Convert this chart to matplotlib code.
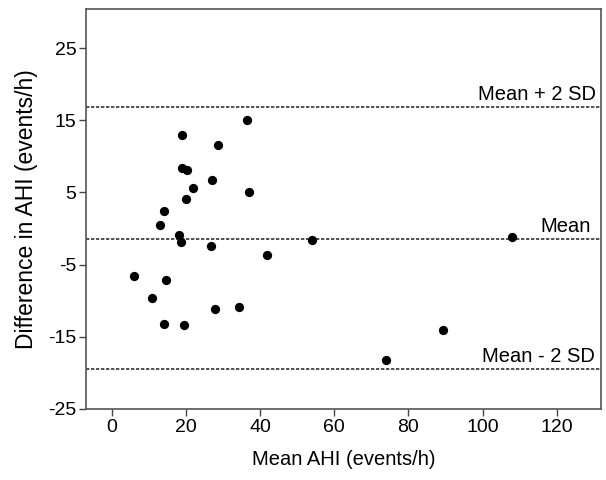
import matplotlib
matplotlib.use("Agg")
import matplotlib.pyplot as plt

plt.rcParams['font.family'] = ['Liberation Sans', 'DejaVu Sans']

# Mittelwert AHI und Differenz (Bland-Altman)
mean_ahi = [5.9, 10.8, 14.0, 14.6, 19.4, 18.6, 26.7, 27.8, 34.3, 41.8,
            12.9, 14.1, 18.9, 18.8, 20.3, 20.0, 21.9, 26.9, 28.5, 36.5,
            37.0, 18.1, 53.9, 107.9, 73.9, 89.2]
diff_ahi = [-6.6, -9.6, -13.2, -7.1, -13.4, -1.9, -2.4, -11.1, -10.9, -3.7,
            0.5, 2.4, 13.0, 8.4, 8.1, 4.1, 5.6, 6.7, 11.6, 15.0,
            5.0, -0.9, -1.6, -1.2, -18.2, -14.1]

line_vals = [16.8, -1.4, -19.5]
line_labels = ['Mean + 2 SD', 'Mean', 'Mean - 2 SD']
label_x = [0.990, 0.979, 0.988]

yticks = [25, 15, 5, -5, -15, -25]
xticks = [0, 20, 40, 60, 80, 100, 120]

fig = plt.figure(figsize=(6.06, 4.8), dpi=100)
ax = fig.add_axes([0.142, 0.148, 0.850, 0.833])

ax.scatter(mean_ahi, diff_ahi, s=32, color='black', zorder=3)

for v, lab, lx in zip(line_vals, line_labels, label_x):
    ax.axhline(v, color='#333333', linestyle=(0, (2, 1)), linewidth=1.2, zorder=2)
    ax.annotate(lab, xy=(lx, v), xycoords=('axes fraction', 'data'),
                xytext=(0, 2), textcoords='offset points',
                ha='right', va='bottom', fontsize=14.5)

ax.set_xlim(-7, 132)
ax.set_ylim(-25, 30.4)
ax.set_xticks(xticks)
ax.set_xticklabels([str(t) for t in xticks])
ax.set_yticks(yticks)
ax.set_yticklabels([str(t) for t in yticks])
ax.tick_params(labelsize=14, direction='out', length=5, width=1, color='#444444', pad=2)
ax.tick_params(top=False, right=False)

for s in ax.spines.values():
    s.set_color('#555555')
    s.set_linewidth(1.2)

ax.set_xlabel('Mean AHI (events/h)', fontsize=14.5, labelpad=10)
ax.set_ylabel('Difference in AHI (events/h)', fontsize=16.5, labelpad=7)

fig.savefig('out.png', dpi=100)
